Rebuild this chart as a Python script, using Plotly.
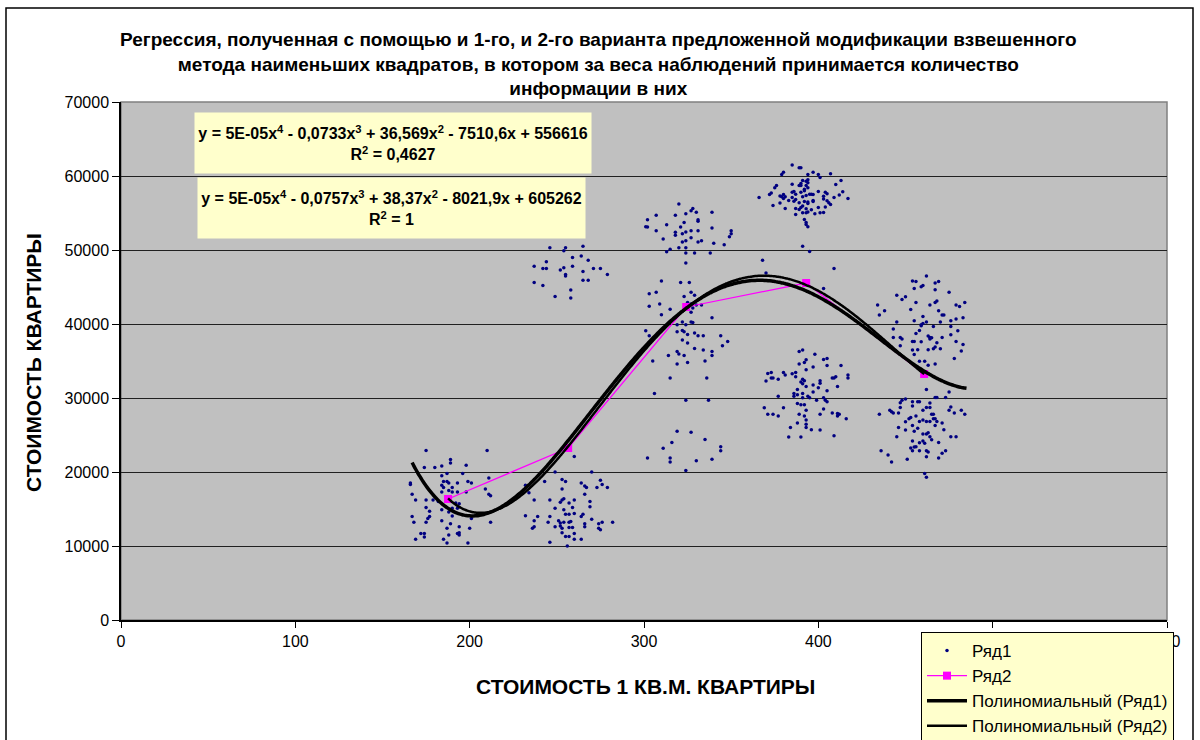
import numpy as np
import plotly.graph_objects as go

# ---------------- data ----------------
cluster_a = [(175,22900),(210,22900),(189,21700),(189,21200),(184,20800),(174,20600),(180,20600),(198,20900),
             (196,19800),(187,19800),(184,19500),(166,18500),(166,18300),(185,18700),(187,18700),(188,18500),
             (184,18200),(185,17900),(190,17900),(193,18500),(199,18700),(201,18500),(209,17700),(211,19200),
             (167,17000),(184,17300),(188,17500),(190,17300),(193,17300),(198,17300),(211,17000),(212,16800),
             (169,16200),(175,16200),(179,16200),(182,16000),(192,15800),(194,15700),(175,15200),(184,14900),
             (190,15100),(193,15100),(177,14700),(188,14600),(190,14050),(167,14000),(177,14000),(176,13700),
             (168,13200),(175,13200),(184,13400),(201,13700),(212,13200),(189,13000),(194,12600),(187,12400),
             (200,12400),(172,11700),(174,11700),(174,11200),(169,10900),(193,11700),(194,11800),(194,11500),
             (188,11500),(185,10900),(187,10400),(199,10400)]
cluster_b_low = [(232,18200),(234,17200),(243,18700),(249,20000),(253,19000),(255,18700),(253,17700),(260,22100),
                 (270,20000),(264,18500),(266,18100),(267,17900),(273,17900),(275,18900),(276,18300),(279,17900),
                 (266,17000),(237,16200),(246,16200),(252,15900),(253,16200),(254,16400),(257,15800),(260,16200),
                 (269,16000),(269,15300),(249,15100),(254,14900),(259,15200),(232,14100),(239,14000),(246,14000),
                 (255,14300),(257,14300),(260,14400),(265,14300),(264,14000),(237,13400),(245,13200),(251,13400),
                 (252,13100),(254,13200),(257,13200),(258,13300),(270,13600),(274,13000),(276,13200),(282,13200),
                 (236,12400),(237,12600),(249,12600),(252,12700),(253,12400),(257,12500),(259,12500),(266,13000),
                 (266,12600),(274,12400),(275,12200),(253,11800),(255,11300),(257,11300),(260,11700),(260,10900),
                 (264,10900),(246,10500),(256,10000)]
cluster_b_high = [(246,50300),(255,50300),(254,49900),(265,50500),(259,49000),(264,49200),(268,48600),(244,48400),
                  (237,47800),(242,47500),(244,47500),(252,47300),(254,47600),(259,47800),(265,47100),(271,47500),
                  (275,47500),(279,46700),(255,46700),(255,46500),(265,45900),(268,45900),(237,45600),(242,45200),
                  (258,44600),(249,43700),(258,43500)]
cluster_c = [(320,56200),(328,55600),(327,55300),(330,55100),(324,54900),(339,55100),(318,54700),(307,54700),
             (302,54100),(331,54100),(331,53900),(323,53700),(313,53400),(302,53100),(321,53100),(339,52960),
             (327,52600),(331,52600),(324,52420),(322,52200),(318,52400),(318,52000),(307,52600),(350,52600),
             (350,52200),(349,51800),(327,51650),(311,51500),(324,51250),(322,51070),(333,51250),(331,51070),
             (340,50900),(346,50700),(320,50300),(324,50300),(315,50100),(313,49760),(324,49580),(329,49580),
             (338,49580),(324,48230),(301,53140),
             (310,45800),(321,45600),(326,45600),(303,44100),(307,44300),(327,44300),(329,43900),(323,43700),
             (309,42700),(303,42400),(315,42000),(325,42900),(327,42700),(330,42560),(333,42560),(328,42150),
             (327,41600),(310,41250),(339,40850),(322,40260),(327,40260),(328,40200),(319,39900),(324,39900),
             (301,39100),(319,38955),(322,39136),(323,38955),(325,38595),(329,38775),(331,38415),(334,38415),
             (344,38415),(303,38415),(322,37830),(325,37424),(348,37650),(345,37060),(329,36704),(319,36300),
             (334,36480),(339,36300),(320,35940),(323,35760),(339,35760),(314,35760),(305,35000),(325,34813),
             (335,34993),(319,34588),(315,32700),(336,32700),(306,30600),(324,29680),(337,29680),
             (319,25500),(327,25357),(335,24400),(316,24000),(311,23200),(344,23400),(344,22880),(302,21900),
             (315,21900),(315,21350),(330,21530),(339,21710),(324,20200)]
cluster_d_high = [(385,61500),(389,61100),(390,61100),(380,60500),(379,60200),(397,60500),(400,60200),(407,60300),
                  (401,59800),(394,60200),(391,59400),(393,59300),(390,59000),(394,59100),(394,59500),(389,58700),
                  (390,58700),(385,58900),(393,58700),(394,58400),(392,58200),(376,58700),(375,58400),(373,57700),
                  (372,57500),(366,57100),(380,57500),(379,57200),(381,57200),(380,56970),(378,57300),(385,57800),
                  (386,57900),(387,57550),(390,57800),(392,58000),(391,57200),(393,57370),(395,57550),(396,57550),
                  (400,57900),(397,57500),(404,57800),(405,57600),(403,57280),(410,58860),(413,59400),(414,57870),
                  (412,57420),(409,57100),(417,56970),(383,56700),(386,56600),(385,57100),(387,56830),(389,56400),
                  (392,56560),(394,56470),(397,56700),(394,56290),(397,56560),(403,56880),(405,56650),(406,56380),
                  (407,56160),(374,56000),(378,56340),(381,55600),(387,55600),(389,55480),(390,55750),(391,55930),
                  (393,55570),(396,55440),(400,55750),(404,55800),(394,55120),(391,55030),(393,55030),(398,54900),
                  (401,55030),(403,55080),(387,54800),(392,54130),(393,53720),(393,53450),(394,53140),(391,50500),
                  (395,49800),(368,48600),(370,46900),(409,47500),(403,44800)]
cluster_d_low = [(389,36300),(391,36480),(398,35900),(403,35200),(405,35350),(393,35170),(392,34800),(389,34590),
                 (397,34200),(405,34400),(413,34400),(393,33820),(371,33300),(373,33460),(380,33460),(381,33100),
                 (385,33280),(387,33460),(387,32880),(373,32700),(374,32700),(377,32520),(370,32300),(391,32520),
                 (390,32160),(392,32330),(391,31930),(393,31570),(397,31750),(401,31980),(401,32330),(408,32700),
                 (409,32700),(410,32880),(417,33100),(417,32700),(400,31390),(397,30800),(405,30980),(411,31570),
                 (388,31160),(386,30620),(388,30440),(386,30220),(391,30620),(394,30220),(395,30040),(391,30040),
                 (399,29680),(403,30040),(404,29680),(405,29500),(377,30220),(388,29270),(390,29090),(392,29090),
                 (380,28690),(369,28690),(403,28510),(393,28330),(371,27790),(374,27790),(377,27560),(389,27790),
                 (392,27560),(401,27790),(408,27970),(411,27920),(412,27790),(411,27560),(416,27200),(393,27020),
                 (388,26620),(393,26440),(393,26030),(384,26030),(396,25720),(401,25670),(409,24900),(383,24720),
                 (390,24720)]
cluster_e = [(462,46500),(454,45800),(456,45750),(469,45750),(467,45530),(460,45200),(459,45030),(455,44810),
             (467,44630),(475,44300),(445,43900),(450,43680),(448,43320),(468,43100),(467,42920),(456,42920),
             (464,42560),(479,42560),(484,42920),(481,42380),(434,42560),(438,41790),(435,41200),(453,41970),
             (469,41790),(471,41200),(472,41200),(460,41030),(455,40440),(445,40260),(470,40260),(476,40440),
             (479,40670),(483,40850),(462,40260),(460,40080),(459,39900),(459,39760),(466,39670),(476,39670),
             (443,39310),(458,39130),(456,38730),(480,39090),(476,38550),(443,38190),(447,38190),(448,37960),
             (463,38370),(464,38190),(465,38150),(464,37960),(471,38190),(468,37470),(454,37650),(455,37650),
             (459,37600),(479,37650),(483,37240),(447,37060),(454,36480),(457,36520),(463,36520),(466,36660),
             (470,36660),(467,36880),(455,35890),(482,36340),(458,34950),(461,34950),(478,35350),(463,34410),
             (467,34590),
             (462,31160),(475,30800),(467,30080),(468,30080),(473,30080),(448,29680),(450,29860),(447,29360),
             (454,29500),(457,29500),(458,29500),(464,29320),(447,28730),(454,28910),(462,28730),(464,28730),
             (441,28330),(435,27790),(442,28150),(443,27970),(446,27970),(460,28330),(476,28780),(475,28330),
             (478,27970),(482,28330),(484,27790),(465,27790),(466,27790),(453,27380),(452,27200),(456,27560),
             (466,27200),(467,27200),(460,27020),(458,26840),(462,26840),(464,26840),(468,26840),(471,26620),
             (450,26800),(454,26300),(467,26300),(446,26030),(457,25900),(455,25490),(472,25720),(460,25130),
             (462,25130),(463,25310),(450,25670),(445,24770),(464,24770),(465,24360),(476,24770),(479,24770),
             (454,24180),(469,24000),(461,23870),(458,23960),(460,24180),(456,23420),(455,23370),(453,23240),
             (454,22880),(458,22880),(462,22880),(463,22700),(473,22880),(471,22520),(436,22880),(440,22290),
             (462,22070),(451,21710),(469,21890),(442,21350),(461,19810),(462,19280)]

ryad2_x = [187.6, 256.5, 324.2, 393.0, 460.7]
ryad2_y = [16350, 23240, 42300, 45540, 33240]

# trendline coefficients as printed (leading term refined from the drawn curves)
trend1_coef = [5.201e-05, -0.0733, 36.569, -7510.6, 556616]
trend2_coef = [5.2874e-05, -0.0757, 38.37, -8021.9, 605262]

title_text = ("Регрессия, полученная с помощью и 1-го, и 2-го варианта предложенной модификации взвешенного<br>"
              "метода наименьших квадратов, в котором за веса наблюдений принимается количество<br>"
              "информации в них")
eq1_text = "y = 5E-05x<sup>4</sup> - 0,0733x<sup>3</sup> + 36,569x<sup>2</sup> - 7510,6x + 556616<br>R<sup>2</sup> = 0,4627"
eq2_text = "y = 5E-05x<sup>4</sup> - 0,0757x<sup>3</sup> + 38,37x<sup>2</sup> - 8021,9x + 605262<br>R<sup>2</sup> = 1"
x_title = "СТОИМОСТЬ 1 КВ.М. КВАРТИРЫ"
y_title = "СТОИМОСТЬ КВАРТИРЫ"
names = ["Ряд1", "Ряд2", "Полиномиальный (Ряд1)", "Полиномиальный (Ряд2)"]

# ---------------- build ----------------
pts = cluster_a + cluster_b_low + cluster_b_high + cluster_c + cluster_d_high + cluster_d_low + cluster_e
r1x = np.array([p[0] for p in pts], dtype=float)
r1y = np.array([p[1] for p in pts], dtype=float)

t1x = np.linspace(r1x.min() + 1, r1x.max() + 1, 300)
t1y = np.polyval(trend1_coef, t1x)
t2x = np.linspace(min(ryad2_x), max(ryad2_x), 300)
t2y = np.polyval(trend2_coef, t2x)

FONT = "Liberation Sans, Arial, sans-serif"

fig = go.Figure()
fig.add_trace(go.Scatter(x=r1x, y=r1y, mode="markers", name=names[0],
                         marker=dict(color="#000080", size=3.5, line=dict(width=0))))
fig.add_trace(go.Scatter(x=ryad2_x, y=ryad2_y, mode="lines+markers", name=names[1],
                         line=dict(color="#FF00FF", width=1.3),
                         marker=dict(symbol="square", size=8, color="#FF00FF")))
fig.add_trace(go.Scatter(x=t1x, y=t1y, mode="lines", name=names[2],
                         line=dict(color="black", width=3.5, shape="spline")))
fig.add_trace(go.Scatter(x=t2x, y=t2y, mode="lines", name=names[3],
                         line=dict(color="black", width=2.5, shape="spline")))

W, H = 1200, 740
L, R, T, B = 121, 33, 102, 120
pw, ph = W - L - R, H - T - B

def px(xp):
    return (xp - L) / pw

def py(yp):
    return (H - B - yp) / ph

fig.update_layout(
    width=W, height=H,
    margin=dict(l=L, r=R, t=T, b=B, autoexpand=False),
    paper_bgcolor="white",
    plot_bgcolor="#C0C0C0",
    font=dict(family=FONT, size=16, color="black"),
    showlegend=True,
    legend=dict(x=px(921), y=py(632), xanchor="left", yanchor="top",
                bgcolor="#FFFFCC", bordercolor="black", borderwidth=1,
                font=dict(family=FONT, size=17, color="black"),
                itemwidth=40, tracegroupgap=0),
    xaxis=dict(range=[0, 600], dtick=100, tick0=0, showgrid=False, zeroline=False,
               showline=True, linecolor="black", linewidth=1.5,
               ticks="outside", ticklen=6, tickcolor="black",
               tickfont=dict(family=FONT, size=16, color="black")),
    yaxis=dict(range=[0, 70000], dtick=10000, tick0=0, tickformat="d",
               showgrid=True, gridcolor="#202020", gridwidth=1, zeroline=False,
               showline=True, linecolor="black", linewidth=1.5,
               ticks="outside", ticklen=7, tickcolor="black",
               tickfont=dict(family=FONT, size=16, color="black")),
)

shapes = [
    dict(type="rect", xref="paper", yref="paper", x0=0, x1=1, y0=0, y1=1,
         line=dict(color="#808080", width=1.5), layer="below"),
    dict(type="rect", xref="paper", yref="paper", x0=px(6), x1=px(1193), y0=py(760), y1=py(8),
         line=dict(color="black", width=1.5)),
]
fig.update_layout(shapes=shapes)

ann = [
    dict(text="<b>" + title_text.replace("<br>", "</b><br><b>") + "</b>", xref="paper", yref="paper",
         x=px(598), y=py(64), xanchor="center", yanchor="middle", showarrow=False,
         font=dict(family=FONT, size=19, color="black"), align="center"),
    dict(text="<b>" + x_title + "</b>", xref="paper", yref="paper", x=px(645), y=py(686),
         xanchor="center", yanchor="middle", showarrow=False,
         font=dict(family=FONT, size=21, color="black")),
    dict(text="<b>" + y_title + "</b>", xref="paper", yref="paper", x=px(33), y=py(363),
         xanchor="center", yanchor="middle", showarrow=False, textangle=-90,
         font=dict(family=FONT, size=21, color="black")),
    dict(text="<b>" + eq1_text.replace("<br>", "</b><br><b>") + "</b>", xref="paper", yref="paper",
         x=px(393), y=py(142.5), xanchor="center", yanchor="middle", showarrow=False,
         bgcolor="#FFFFCC", width=392, height=56, borderpad=2, align="center",
         font=dict(family=FONT, size=16, color="black")),
    dict(text="<b>" + eq2_text.replace("<br>", "</b><br><b>") + "</b>", xref="paper", yref="paper",
         x=px(391.5), y=py(208), xanchor="center", yanchor="middle", showarrow=False,
         bgcolor="#FFFFCC", width=383, height=56, borderpad=2, align="center",
         font=dict(family=FONT, size=16, color="black")),
]
fig.update_layout(annotations=ann)

fig.write_html("out.html", config={"displayModeBar": False},
               post_script="document.body.style.margin='0';document.body.style.overflow='hidden';")
